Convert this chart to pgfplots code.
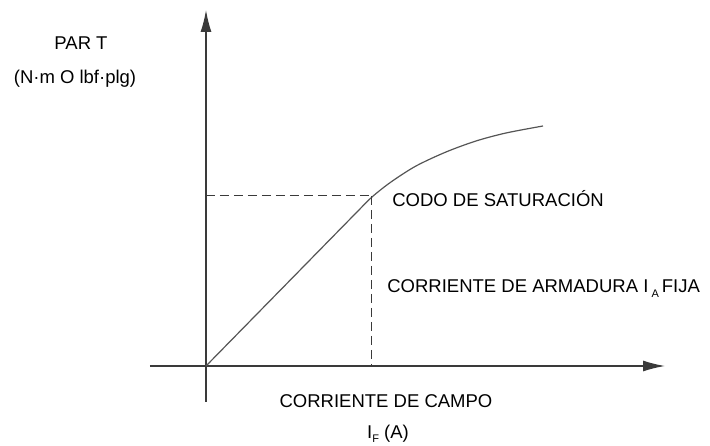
\documentclass[border=0pt]{standalone}
\usepackage{pgfplots}
\pgfplotsset{compat=1.18}
\usepackage{fontspec}
\setmainfont{Liberation Sans}
\usetikzlibrary{arrows.meta}
\definecolor{axisgray}{HTML}{3A3A3A}
\definecolor{curvegray}{HTML}{555555}
\definecolor{txt}{HTML}{222222}
\begin{document}
\fontsize{18.5}{22}\selectfont
\begin{tikzpicture}
\begin{axis}[
  x=1pt, y=1pt,
  xmin=-56, xmax=459, ymin=-36, ymax=356,
  axis lines=middle,
  axis line style={axisgray, line width=1.4pt, -{Latex[length=22pt,width=11pt]}},
  xtick=\empty, ytick=\empty,
  clip=false,
  every node/.style={inner sep=0pt, text=txt},
]
% curva de par
\addplot[curvegray, line width=1.2pt, smooth, tension=0.5] coordinates {
  (0,0) (100,102) (150,153) (166,169) (185,184) (210,200)
  (240,214) (270,225) (300,233) (337,240)};
% lineas de referencia del codo
\addplot[axisgray, line width=1pt, dash pattern=on 9pt off 5pt] coordinates {(0,170) (166,170)};
\addplot[axisgray, line width=1pt, dash pattern=on 9pt off 5pt] coordinates {(166,170) (166,0)};
% textos
\node at (axis cs:-125,323) {PAR T};
\node at (axis cs:-131,287) {(N·m O lbf·plg)};
\node[anchor=base west] at (axis cs:180,159) {CODO DE SATURACIÓN};
\node[anchor=base west] at (axis cs:175,73) {CORRIENTE DE ARMADURA I\,\raisebox{-0.5ex}{\fontsize{11}{11}\selectfont A}\,FIJA};
\node[anchor=base] at (axis cs:180,-42) {CORRIENTE DE CAMPO};
\node[anchor=base] at (axis cs:182,-73) {I\raisebox{-0.4ex}{\fontsize{11}{11}\selectfont F}\ (A)};
% esquinas de la figura
\coordinate (bbll) at (axis cs:-206,-80);
\coordinate (bbur) at (axis cs:504,366);
\end{axis}
\pgfresetboundingbox
\path (bbll) rectangle (bbur);
\end{tikzpicture}
\end{document}
